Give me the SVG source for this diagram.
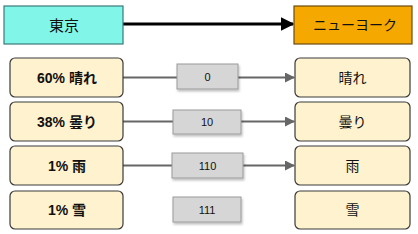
<svg xmlns="http://www.w3.org/2000/svg" width="418" height="234" viewBox="0 0 418 234">
<style>
text{font-family:"Liberation Sans","Noto Sans CJK JP",sans-serif;text-anchor:middle;dominant-baseline:central;fill:#111}
.cat{fill:#FFF2CE;stroke:#3a3a3a;stroke-width:1.2}
.lbl{fill:#D6D6D6;stroke:#9a9a9a;stroke-width:1}
.b{font-weight:bold;font-size:14px}
.r{font-size:14px}
.n{font-size:11px}
.line{stroke:#666;stroke-width:2;fill:none}
</style>
<defs>
<marker id="ag" viewBox="0 0 10 10" refX="9" refY="5" markerWidth="5" markerHeight="5" orient="auto"><path d="M0,0L10,5L0,10z" fill="#666"/></marker>
<marker id="ak" viewBox="0 0 10 10" refX="9" refY="5" markerWidth="4.5" markerHeight="4.5" orient="auto"><path d="M0,0L10,5L0,10z" fill="#000"/></marker>
<filter id="sh" x="-10%" y="-20%" width="130%" height="160%"><feDropShadow dx="1" dy="2" stdDeviation="1" flood-color="#000" flood-opacity="0.25"/></filter>
</defs>
<g id="connectors">
<line x1="123" y1="24" x2="293" y2="24" stroke="#000" stroke-width="3" marker-end="url(#ak)"/>
<line class="line" x1="123" y1="77.5" x2="177" y2="77.5"/>
<line class="line" x1="238" y1="77.5" x2="294" y2="77.5" marker-end="url(#ag)"/>
<line class="line" x1="123" y1="121.5" x2="173" y2="121.5"/>
<line class="line" x1="241" y1="121.5" x2="294" y2="121.5" marker-end="url(#ag)"/>
<line class="line" x1="123" y1="165.5" x2="172" y2="165.5"/>
<line class="line" x1="243" y1="165.5" x2="294" y2="165.5" marker-end="url(#ag)"/>
</g>
<g id="tokyo"><rect x="4" y="6" width="119" height="38" fill="#80F5E8" stroke="#3a7a78" stroke-width="1.2"/><text x="64" y="25" font-size="15">東京</text></g>
<g id="newyork"><rect x="294" y="6" width="118" height="38" fill="#F5A800" stroke="#6b4c10" stroke-width="1.2"/><text x="355" y="25" font-size="14">ニューヨーク</text></g>
<g id="src-sunny"><rect class="cat" x="10" y="58" width="113" height="39" rx="5"/><text class="b" x="67" y="77.5">60% 晴れ</text></g>
<g id="src-cloudy"><rect class="cat" x="10" y="102" width="113" height="39" rx="5"/><text class="b" x="67" y="121.5">38% 曇り</text></g>
<g id="src-rain"><rect class="cat" x="10" y="146" width="113" height="39" rx="5"/><text class="b" x="67" y="165.5">1% 雨</text></g>
<g id="src-snow"><rect class="cat" x="10" y="191" width="113" height="38" rx="5"/><text class="b" x="67" y="210">1% 雪</text></g>
<g id="code-0"><rect class="lbl" x="177" y="64" width="61" height="25" filter="url(#sh)"/><text class="n" x="207.5" y="76.5">0</text></g>
<g id="code-10"><rect class="lbl" x="173" y="110" width="68" height="24" filter="url(#sh)"/><text class="n" x="207" y="122">10</text></g>
<g id="code-110"><rect class="lbl" x="172" y="153" width="71" height="25" filter="url(#sh)"/><text class="n" x="207.5" y="165.5">110</text></g>
<g id="code-111"><rect class="lbl" x="173" y="197" width="68" height="25" filter="url(#sh)"/><text class="n" x="207" y="209.5">111</text></g>
<g id="dst-sunny"><rect class="cat" x="295" y="58" width="115" height="39" rx="5"/><text class="r" x="352.5" y="77.5">晴れ</text></g>
<g id="dst-cloudy"><rect class="cat" x="295" y="102" width="115" height="39" rx="5"/><text class="r" x="352.5" y="121.5">曇り</text></g>
<g id="dst-rain"><rect class="cat" x="295" y="146" width="115" height="39" rx="5"/><text class="r" x="352.5" y="165.5">雨</text></g>
<g id="dst-snow"><rect class="cat" x="295" y="191" width="115" height="38" rx="5"/><text class="r" x="352.5" y="210">雪</text></g>
</svg>
